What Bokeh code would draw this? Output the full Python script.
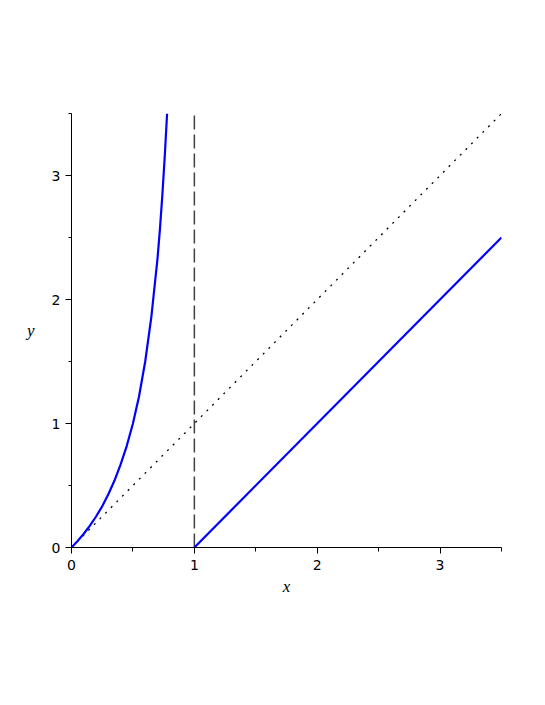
from bokeh.plotting import figure
from bokeh.models import FixedTicker, Range1d
from bokeh.embed import file_html
from bokeh.resources import INLINE

# Left branch
left_x = [0, 0.05, 0.1, 0.15, 0.2, 0.25, 0.3, 0.35, 0.4, 0.45, 0.5, 0.55, 0.6, 0.65, 0.7, 0.72, 0.74, 0.76, 0.778]
left_y = [0, 0.053, 0.111, 0.176, 0.25, 0.333, 0.43, 0.54, 0.67, 0.82, 1.0, 1.22, 1.5, 1.86, 2.33, 2.57, 2.85, 3.17, 3.5]
# Right branch
right_x = [1.0, 3.5]
right_y = [0.0, 2.5]
# Dotted diagonal
diag_x = [0.0, 3.5]
diag_y = [0.0, 3.5]
# Dashed vertical asymptote
asym_x = [1.0, 1.0]
asym_y = [0.0, 3.5]

x_ticks = [0, 1, 2, 3]
x_minor = [0.5, 1.5, 2.5, 3.5]
y_ticks = [0, 1, 2, 3]
y_minor = [0.5, 1.5, 2.5, 3.5]

p = figure(width=529, height=689, output_backend="svg", toolbar_location=None,
           x_range=Range1d(0, 3.5), y_range=Range1d(0, 3.5),
           min_border_left=71, min_border_top=113, min_border_right=28, min_border_bottom=142)
p.outline_line_color = None
p.grid.visible = False
p.background_fill_color = "white"
p.border_fill_color = "white"

p.line(diag_x, diag_y, line_color="black", line_width=1.3, line_dash="2 6")
p.line(asym_x, asym_y, line_color="#404040", line_width=1.5, line_dash="14 5")
p.line(left_x, left_y, line_color="#0000FF", line_width=2.2)
p.line(right_x, right_y, line_color="#0000FF", line_width=2.2)

for ax, ticks, minor, mlen in ((p.xaxis[0], x_ticks, x_minor, 4), (p.yaxis[0], y_ticks, y_minor, 3)):
    ax.ticker = FixedTicker(ticks=ticks, minor_ticks=minor)
    ax.major_tick_out = 6
    ax.major_tick_in = 0
    ax.minor_tick_out = mlen
    ax.minor_tick_in = 0
    ax.axis_line_color = "black"
    ax.major_tick_line_color = "black"
    ax.minor_tick_line_color = "black"
    ax.major_label_text_font = "DejaVu Sans"
    ax.major_label_text_font_size = "14px"
    ax.major_label_text_color = "black"
    ax.axis_label_text_font = "Liberation Serif"
    ax.axis_label_text_font_style = "italic"
    ax.axis_label_text_font_size = "17px"
    ax.axis_label_text_color = "black"

p.xaxis.axis_label = "x"
p.xaxis.major_label_standoff = 6
p.xaxis.axis_label_standoff = 4
p.yaxis.axis_label = "y"
p.yaxis.axis_label_orientation = "horizontal"
p.yaxis.major_label_standoff = 5
p.yaxis.axis_label_standoff = 14

open("out.html", "w").write(file_html(p, INLINE))
